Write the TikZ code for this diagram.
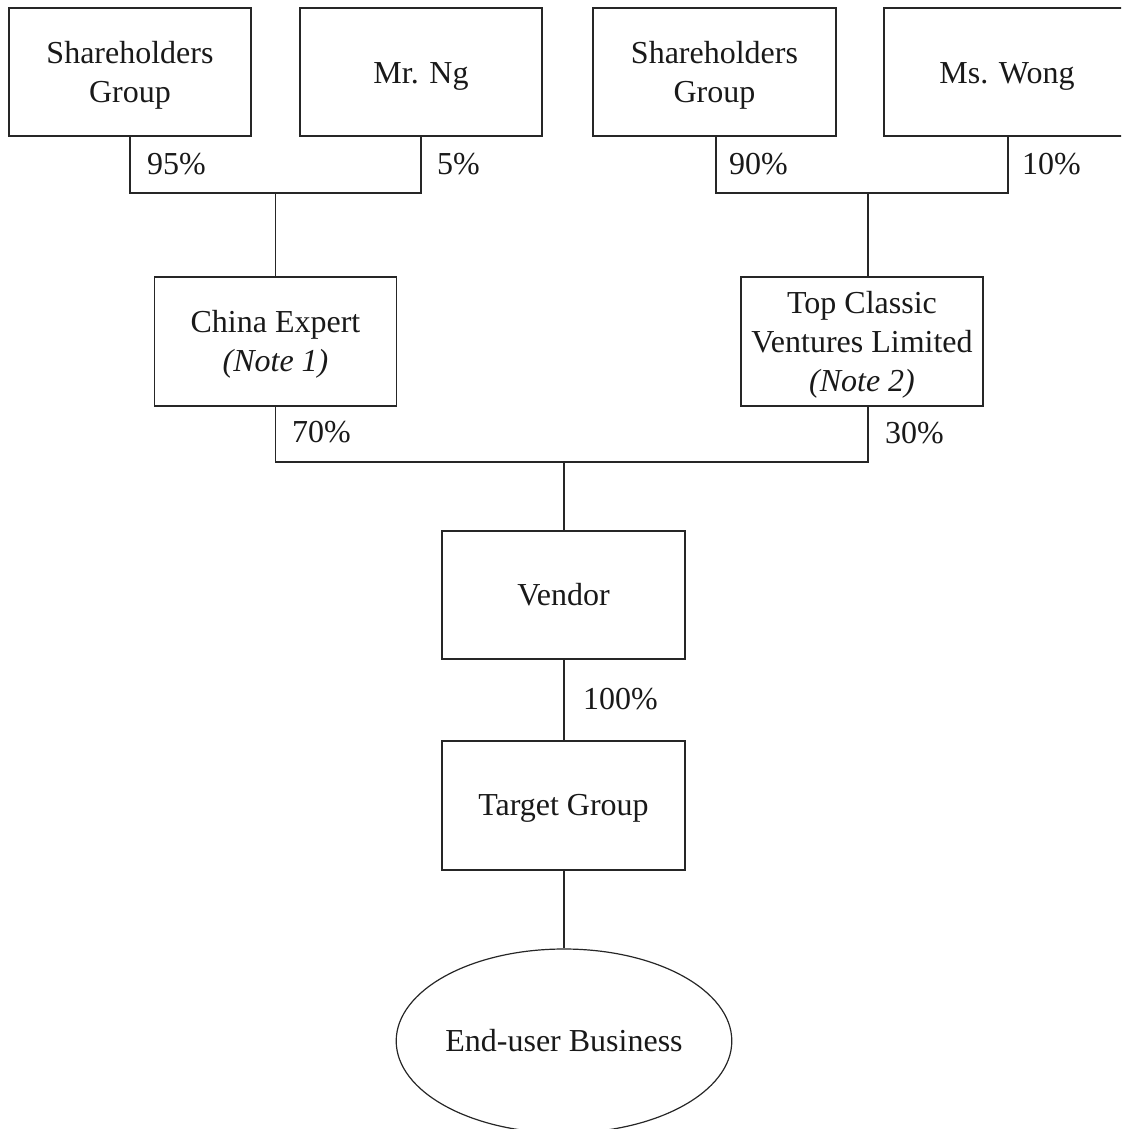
\documentclass[tikz,border=0pt]{standalone}
\usepackage{fontspec}
\setmainfont{Liberation Serif}
\usetikzlibrary{shapes.geometric}
\begin{document}
\begin{tikzpicture}[x=1pt,y=-1pt,
  every node/.style={font=\fontsize{32}{39}\selectfont, text=black!90},
  every label/.style={align=center, inner sep=0pt, yshift=-3pt},
  box/.style={draw=black!85, line width=1.2pt, rectangle, inner sep=0pt, align=center, minimum height=128pt},
  pct/.style={anchor=base west, inner sep=0pt},
  link/.style={draw=black!85, line width=1.2pt}]
\clip (0,0) rectangle (1121,1129);
\useasboundingbox (0,0) rectangle (1121,1129);
% top row
\node[box, minimum width=242pt, label={center:Shareholders\\Group}] (sg1) at (130,72) {};
\node[box, minimum width=242pt, label={[yshift=-1pt]center:Mr. Ng}] (ng) at (421,72) {};
\node[box, minimum width=243pt, label={center:Shareholders\\Group}] (sg2) at (714.5,72) {};
\node[box, minimum width=246pt, label={[yshift=-1pt]center:Ms. Wong}] (wong) at (1007,72) {};
% middle
\node[box, minimum width=242pt, minimum height=129pt, label={center:China Expert\\\itshape (Note 1)}] (ce) at (275.5,341.5) {};
\node[box, minimum width=242pt, minimum height=129pt, label={center:Top Classic\\Ventures Limited\\\itshape (Note 2)}] (tcv) at (862,341.5) {};
\node[box, minimum width=243pt] (vendor) at (563.5,595) {Vendor};
\node[box, minimum width=243pt, minimum height=129pt, label={center:Target Group}] (target) at (563.5,805.5) {};
\node[draw=black!85, line width=1.2pt, ellipse, inner sep=0pt, minimum width=334pt, minimum height=184pt] (eb) at (564,1041) {End-user Business};
% junctions
\coordinate (j1) at (275.5,193);
\coordinate (j2) at (868,193);
\coordinate (j3) at (564,462);
\coordinate (j4) at (868,462);
\coordinate (a1) at (716,136);
\coordinate (a2) at (1008,136);
% connectors
\draw[link] (sg1.south) -- (sg1.south |- j1) -- (ng.south |- j1) -- (ng.south);
\draw[link] (j1) -- (ce.north);
\draw[link] (a1) -- (a1 |- j2) -- (a2 |- j2) -- (a2);
\draw[link] (j2) -- (tcv.north -| j2);
\draw[link] (ce.south) -- (ce.south |- j3) -- (j4) -- (tcv.south -| j4);
\draw[link] (j3) -- (vendor.north -| j3);
\draw[link] (vendor.south -| j3) -- (target.north -| j3);
\draw[link] (target.south -| eb.north) -- (eb.north);
% percentages
\node[pct] (p95) at (147,174) {95\%};
\node[pct] (p5) at (437,174) {5\%};
\node[pct] (p90) at (729,174) {90\%};
\node[pct] (p10) at (1022,174) {10\%};
\node[pct] (p70) at (292,442) {70\%};
\node[pct] (p30) at (885,443) {30\%};
\node[pct] (p100) at (583,709) {100\%};
\end{tikzpicture}
\end{document}
